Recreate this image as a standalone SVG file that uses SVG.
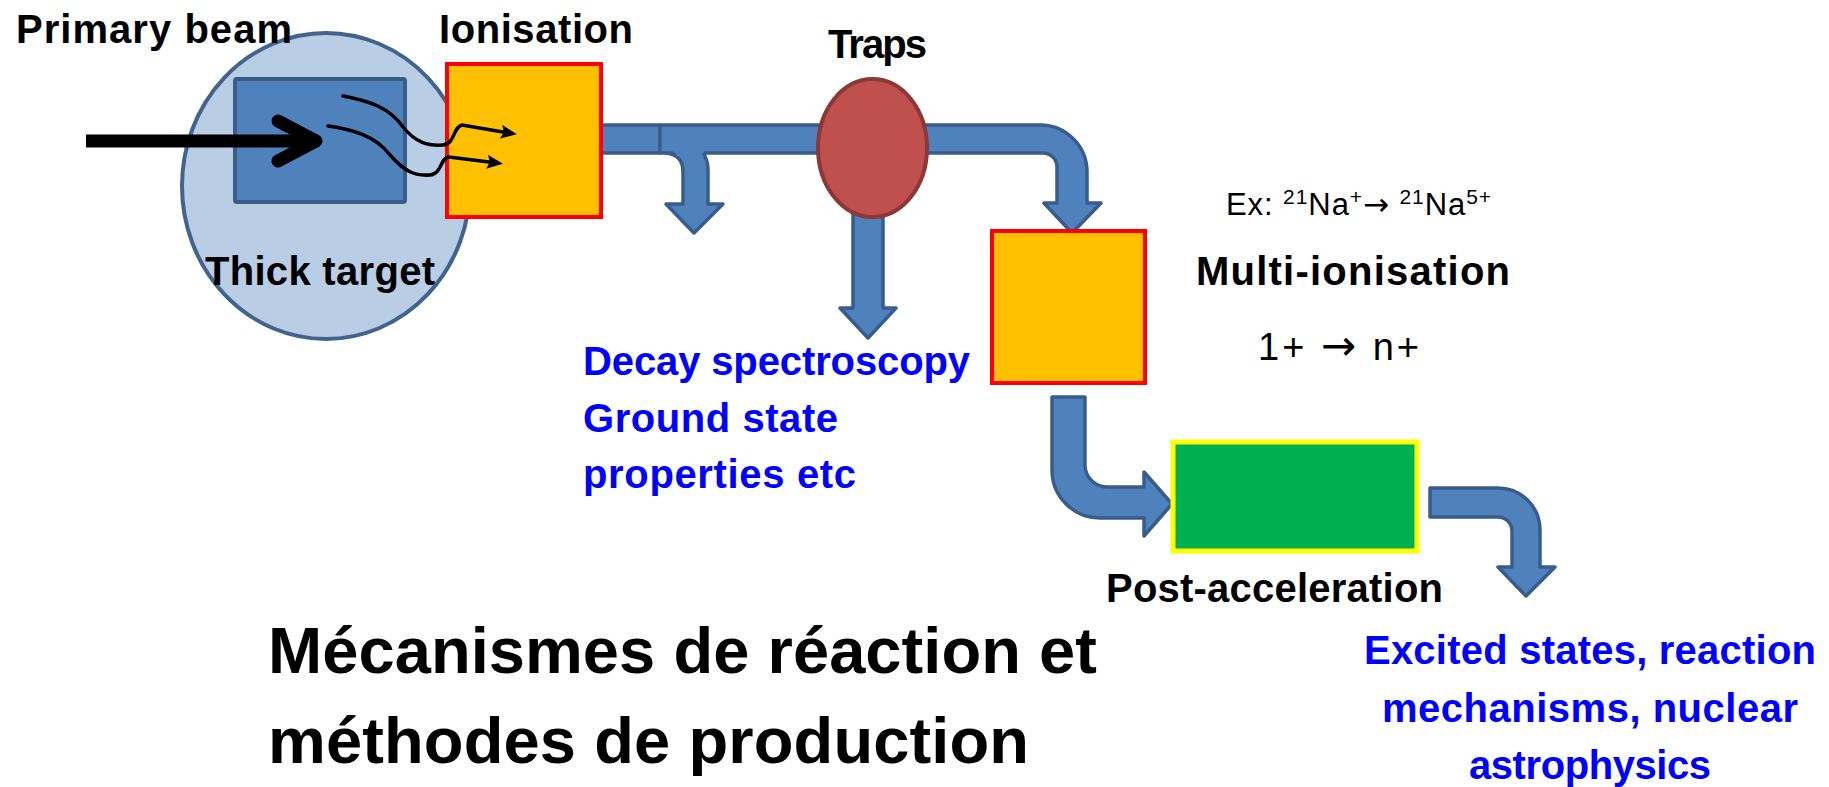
<svg xmlns="http://www.w3.org/2000/svg" width="1829" height="787" viewBox="0 0 1829 787">
<style>
.lbl{font-family:"Liberation Sans",Arial,sans-serif;font-weight:bold;font-size:40px;fill:#000}
.blue{font-family:"Liberation Sans",Arial,sans-serif;font-weight:bold;font-size:40px;fill:#0000ff}
.reg{font-family:"Liberation Sans",Arial,sans-serif;font-weight:normal;fill:#000}
.arw{font-family:"DejaVu Sans",sans-serif}
.title{font-family:"Liberation Sans",Arial,sans-serif;font-weight:bold;font-size:65px;fill:#000}
.pipe{fill:#4f81bd;stroke:#385d8a;stroke-width:3.5;stroke-linejoin:round}
.pipefill{fill:#4f81bd;stroke:none}
.pipeedge{fill:none;stroke:#385d8a;stroke-width:3.5;stroke-linejoin:round}
.ion{fill:#ffc000;stroke:#ff0000;stroke-width:4}
.wave{fill:none;stroke:#000;stroke-width:3.5;stroke-linecap:round}
</style>
<defs>
<marker id="ah" markerUnits="userSpaceOnUse" viewBox="0 0 16 14" markerWidth="16" markerHeight="14" refX="2" refY="7" orient="auto">
<path d="M0,0 L16,7 L0,14 L3,7 Z" fill="#000"/>
</marker>
</defs>

<g id="node-target">
<ellipse cx="326" cy="186" rx="144" ry="153" fill="#b9cde5" stroke="#41648f" stroke-width="4"/>
<rect x="235" y="79" width="170" height="123" rx="2" fill="#4f81bd" stroke="#385d8a" stroke-width="4"/>
</g>

<g id="connectors">
<line x1="86" y1="141" x2="314" y2="141" stroke="#000" stroke-width="13"/>
<polyline points="278,121 316,141 278,161" fill="none" stroke="#000" stroke-width="13" stroke-linecap="round" stroke-linejoin="round"/>
<rect class="pipe" x="601" y="125" width="59" height="28"/>
<rect class="pipe" x="660" y="125" width="215" height="28"/>
<path class="pipefill" d="M664,149 Q683,151 683,172 L683,204 L666,204 L694,233 L723,204 L708,204 L708,170 Q708,158 703,149 Z"/>
<path class="pipeedge" d="M665,153 Q683,154 683,172 L683,204 L666,204 L694,233 L723,204 L708,204 L708,170 Q708,160 703,153"/>
<path class="pipe" d="M853,190 L853,308 L840,308 L868,338 L896,308 L883,308 L883,190 Z"/>
<path class="pipe" d="M870,125 L1040,125 A47,47 0 0 1 1087,172 L1087,203 L1101,203 L1072,233 L1044,203 L1057,203 L1057,167 A14,14 0 0 0 1043,153 L870,153 Z"/>
<path class="pipe" d="M1052,397 L1052,470 A48,48 0 0 0 1100,518 L1144,518 L1144,536 L1172,504 L1144,472 L1144,487 L1107,487 A22,22 0 0 1 1085,465 L1085,397 Z"/>
<path class="pipe" d="M1430,488 L1498,488 A42,42 0 0 1 1540,530 L1540,567 L1555,567 L1526,596 L1498,567 L1512,567 L1512,531 A14,14 0 0 0 1498,517 L1430,517 Z"/>
</g>

<g id="node-ionisation">
<rect class="ion" x="447" y="64" width="154" height="153"/>
</g>

<g id="wavy">
<path class="wave" marker-end="url(#ah)" d="M343,96 C370,101 390,108 403,127 C416,143 428,146 443,145 C455,144 453,127 462,125 L503,132"/>
<path class="wave" marker-end="url(#ah)" d="M328,126 C350,129 375,135 390,155 C405,172 415,176 430,175 C442,174 440,158 449,157 L489,162"/>
</g>

<g id="node-traps">
<ellipse cx="872.5" cy="148" rx="54.5" ry="69" fill="#c0504d" stroke="#8c3836" stroke-width="4"/>
</g>

<g id="node-multi">
<rect class="ion" x="992" y="231" width="153" height="152"/>
</g>

<g id="node-postacc">
<rect x="1173" y="442" width="244" height="109" fill="#00b050" stroke="#ffff00" stroke-width="5"/>
</g>

<g id="labels">
<text class="lbl" x="16" y="43" textLength="276">Primary beam</text>
<text class="lbl" x="439" y="43" textLength="194">Ionisation</text>
<text class="lbl" x="205" y="285" textLength="230">Thick target</text>
<text class="lbl" x="828" y="58" textLength="99">Traps</text>
<text class="reg" x="1226" y="215" font-size="31" textLength="265">Ex: <tspan font-size="21" dy="-11">21</tspan><tspan dy="11">Na</tspan><tspan font-size="21" dy="-11">+</tspan><tspan class="arw" dy="11">→</tspan> <tspan font-size="21" dy="-11">21</tspan><tspan dy="11">Na</tspan><tspan font-size="21" dy="-11">5+</tspan></text>
<text class="lbl" x="1196" y="285" font-size="41" textLength="314">Multi-ionisation</text>
<text class="reg" x="1258" y="360" font-size="38" textLength="161">1+ <tspan class="arw" font-size="42">→</tspan> n+</text>
<text class="blue" x="583" y="375" textLength="387">Decay spectroscopy</text>
<text class="blue" x="583" y="432" textLength="255">Ground state</text>
<text class="blue" x="583" y="488" textLength="273">properties etc</text>
<text class="lbl" x="1106" y="602" textLength="337">Post-acceleration</text>
<text class="blue" x="1590" y="664" text-anchor="middle" textLength="452">Excited states, reaction</text>
<text class="blue" x="1590" y="722" text-anchor="middle" textLength="416">mechanisms, nuclear</text>
<text class="blue" x="1590" y="779" text-anchor="middle" textLength="242">astrophysics</text>
<text class="title" x="268" y="673" textLength="829">Mécanismes de réaction et</text>
<text class="title" x="268" y="763" textLength="761">méthodes de production</text>
</g>
</svg>
